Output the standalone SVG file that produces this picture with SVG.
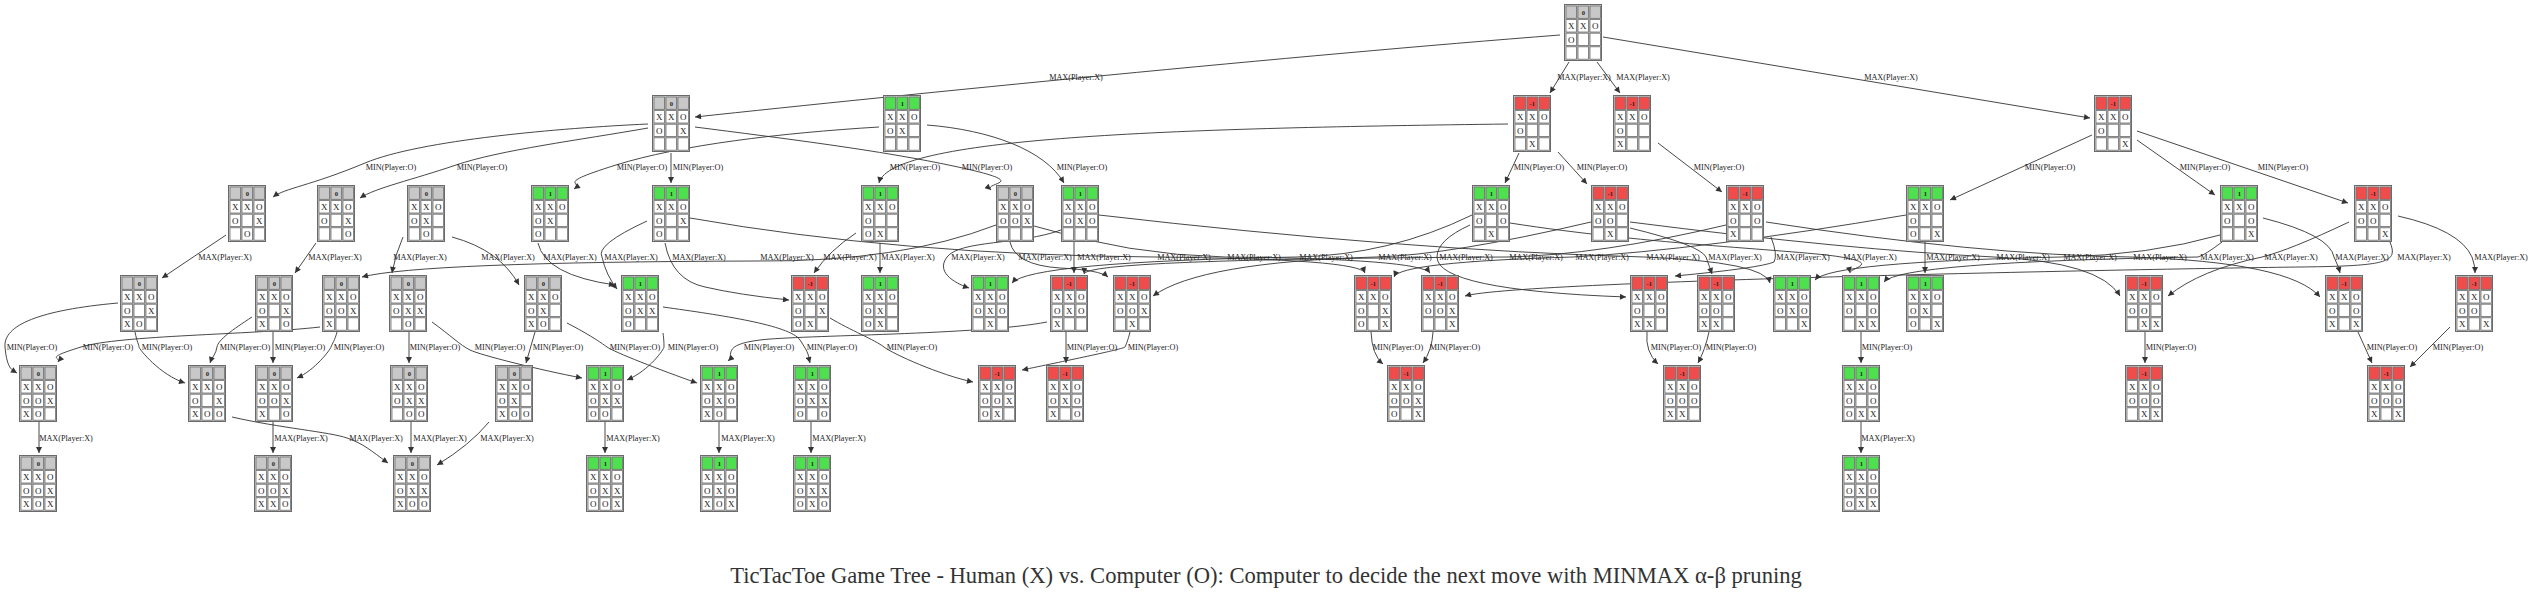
<svg xmlns="http://www.w3.org/2000/svg" xmlns:xlink="http://www.w3.org/1999/xlink" width="2531" height="593" viewBox="0 0 2531 593">
<style>
.fr{fill:#b8b8b8;stroke:#6a6a6a;stroke-width:1}
.fi{fill:none;stroke:#e0e0e0;stroke-width:0.6}
.c{fill:#fff;stroke:#707070;stroke-width:0.8}
.tn{fill:#c8c8c8;stroke:#707070;stroke-width:0.8}
.tg{fill:#4ee04e;stroke:#707070;stroke-width:0.8}
.tr{fill:#f04c4c;stroke:#707070;stroke-width:0.8}
.v{font-family:"Liberation Serif",serif;font-size:6.5px;font-weight:bold;text-anchor:middle;fill:#222}
.b{font-family:"Liberation Serif",serif;font-size:9px;text-anchor:middle;fill:#222}
.el{font-family:"Liberation Serif",serif;font-size:8.2px;text-anchor:middle;fill:#222}
.e path{fill:none;stroke:#333;stroke-width:0.9;marker-end:url(#ah)}
.title{font-family:"Liberation Serif",serif;font-size:22.6px;text-anchor:middle;fill:#333}
</style>
<defs>
<marker id="ah" viewBox="0 0 10 10" refX="10" refY="5" markerWidth="8" markerHeight="6" markerUnits="userSpaceOnUse" orient="auto"><path d="M0,0 L10,5 L0,10 z" fill="#333"/></marker>
<g id="bd"><rect class="fr" x="0.5" y="0.5" width="37" height="56"/><rect class="fi" x="1.3" y="1.3" width="35.4" height="54.4"/>
<rect class="c" x="2" y="15.6" width="10.5" height="12.4"/><rect class="c" x="14" y="15.6" width="10.5" height="12.4"/><rect class="c" x="26" y="15.6" width="10.5" height="12.4"/>
<rect class="c" x="2" y="29.2" width="10.5" height="12.4"/><rect class="c" x="14" y="29.2" width="10.5" height="12.4"/><rect class="c" x="26" y="29.2" width="10.5" height="12.4"/>
<rect class="c" x="2" y="42.8" width="10.5" height="12.4"/><rect class="c" x="14" y="42.8" width="10.5" height="12.4"/><rect class="c" x="26" y="42.8" width="10.5" height="12.4"/></g>
<g id="tn"><rect class="tn" x="2" y="2" width="10.5" height="12.3"/><rect class="tn" x="14" y="2" width="10.5" height="12.3"/><rect class="tn" x="26" y="2" width="10.5" height="12.3"/></g>
<g id="tg"><rect class="tg" x="2" y="2" width="10.5" height="12.3"/><rect class="tg" x="14" y="2" width="10.5" height="12.3"/><rect class="tg" x="26" y="2" width="10.5" height="12.3"/></g>
<g id="tr"><rect class="tr" x="2" y="2" width="10.5" height="12.3"/><rect class="tr" x="14" y="2" width="10.5" height="12.3"/><rect class="tr" x="26" y="2" width="10.5" height="12.3"/></g>
</defs>
<rect width="2531" height="593" fill="#fff"/>

<g id="connectors" class="e">
<path d="M1560,35 C1300,55 900,95 695,117"/>
<path d="M1569,62 L1550,93"/>
<path d="M1597,62 L1620,93"/>
<path d="M1603,37 L2090,118"/>

<path d="M648,124 C560,128 420,140 365,163 S285,188 273,197"/>
<path d="M648,128 C580,140 500,150 456,165 S375,188 360,198"/>
<path d="M671,153 L671,183"/>
<path d="M695,127 C780,138 880,150 958,167 S982,182 991,190"/>
<path d="M879,127 C780,133 680,145 616,165 S585,181 574,189"/>
<path d="M927,125 C990,130 1045,150 1064,183"/>
<path d="M1508,124 C1200,128 890,135 879,183"/>
<path d="M1519,153 L1505,183"/>
<path d="M1558,152 L1587,184"/>
<path d="M1658,143 L1722,192"/>
<path d="M2092,135 L1950,200"/>
<path d="M2137,140 L2215,195"/>
<path d="M2137,131 L2348,203"/>

<path d="M226,235 L162,278"/>
<path d="M316,243 L295,273"/>
<path d="M403,237 Q395,255 392,273"/>
<path d="M452,237 Q500,250 519,285"/>
<path d="M538,243 Q545,275 615,285"/>
<path d="M647,221 Q595,245 602,257 Q606,275 617,289"/>
<path d="M665,243 Q672,280 705,287 Q740,295 789,300"/>
<path d="M856,233 Q830,250 814,273"/>
<path d="M880,243 L880,273"/>
<path d="M996,225 Q900,262 758,261 Q420,262 362,277"/>
<path d="M1061,230 C1020,245 960,240 947,257 S960,285 969,288"/>
<path d="M1010,242 Q1015,265 1060,268 Q1100,270 1108,277"/>
<path d="M1074,242 L1074,273"/>
<path d="M690,218 Q900,255 1155,257 Q1360,259 1365,273"/>
<path d="M1034,226 Q1130,255 1225,257 Q1420,259 1430,273"/>
<path d="M1472,215 Q1390,255 1297,257 Q1030,262 1012,283"/>
<path d="M1591,222 Q1450,255 1376,257 Q1200,262 1153,296"/>
<path d="M1470,225 Q1437,240 1437,257 Q1437,290 1626,297"/>
<path d="M1726,225 Q1600,255 1507,257 Q1085,259 1084,274"/>
<path d="M1906,215 Q1700,250 1573,257 Q1400,262 1394,277"/>
<path d="M1099,215 Q1400,250 1644,257 Q1765,262 1770,283"/>
<path d="M1630,228 Q1700,245 1706,257 Q1710,268 1712,274"/>
<path d="M1771,237 Q1778,255 1774,262 Q1760,268 1675,276"/>
<path d="M1510,223 C1650,245 1800,250 1841,257 S1849,268 1850,273"/>
<path d="M1925,242 L1925,273"/>
<path d="M1630,222 Q1850,250 1994,257 Q2100,262 2120,296"/>
<path d="M2220,235 Q2150,255 2061,257 Q1830,262 1815,280"/>
<path d="M1766,222 Q1980,255 2131,257 Q2290,262 2320,297"/>
<path d="M2222,242 Q2205,255 2198,257 Q1900,262 1884,282"/>
<path d="M2349,222 Q2290,250 2262,257 Q2200,270 2168,296"/>
<path d="M2263,218 Q2330,235 2334,257 Q2338,265 2340,273"/>
<path d="M2390,242 C2398,262 2390,266 2300,267 S1520,280 1465,296"/>
<path d="M2398,216 Q2460,230 2472,257 Q2475,265 2475,273"/>

<path d="M118,303 C40,310 3,325 5,347 S12,370 17,373"/>
<path d="M320,327 C250,335 120,335 81,347 S62,357 58,362"/>
<path d="M135,332 C137,342 139,345 139,347 S160,375 185,383"/>
<path d="M252,317 C232,330 218,340 217,347 S212,357 210,363"/>
<path d="M273,332 L273,363"/>
<path d="M337,332 C335,340 332,344 331,347 S315,370 297,378"/>
<path d="M409,332 L409,363"/>
<path d="M432,322 C450,335 460,345 470,350 S540,370 582,378"/>
<path d="M535,332 L526,363"/>
<path d="M567,323 C590,335 600,342 607,347 S660,370 697,383"/>
<path d="M663,333 C664,340 664,345 664,347 S650,370 627,380"/>
<path d="M1047,322 C980,335 800,335 760,340 S735,355 728,361"/>
<path d="M663,307 C720,315 790,325 800,340 S808,355 810,363"/>
<path d="M830,318 C850,330 875,340 884,347 S940,375 973,382"/>
<path d="M1130,332 C1128,340 1126,345 1125,347 S1060,362 1022,370"/>
<path d="M1066,332 L1066,363"/>
<path d="M1371,332 Q1372,355 1383,364"/>
<path d="M1433,332 Q1432,350 1423,363"/>
<path d="M1647,332 Q1645,352 1658,364"/>
<path d="M1709,332 Q1705,350 1698,363"/>
<path d="M1861,332 L1861,363"/>
<path d="M2145,332 L2145,363"/>
<path d="M2358,332 L2372,363"/>
<path d="M2450,327 L2410,367"/>

<path d="M39,422 L39,453"/>
<path d="M273,422 L273,453"/>
<path d="M232,417 C280,428 330,432 347,438 S370,450 388,463"/>
<path d="M411,422 L411,453"/>
<path d="M489,422 Q470,445 437,465"/>
<path d="M605,422 L605,453"/>
<path d="M719,422 L719,453"/>
<path d="M811,422 L811,453"/>
<path d="M1861,422 L1861,453"/>
</g>

<g id="edge-labels">
<text class="el" x="1076" y="80">MAX(Player:X)</text>
<text class="el" x="1584" y="80">MAX(Player:X)</text>
<text class="el" x="1643" y="80">MAX(Player:X)</text>
<text class="el" x="1891" y="80">MAX(Player:X)</text>
<text class="el" x="391" y="170">MIN(Player:O)</text>
<text class="el" x="482" y="170">MIN(Player:O)</text>
<text class="el" x="642" y="170">MIN(Player:O)</text>
<text class="el" x="698" y="170">MIN(Player:O)</text>
<text class="el" x="915" y="170">MIN(Player:O)</text>
<text class="el" x="987" y="170">MIN(Player:O)</text>
<text class="el" x="1082" y="170">MIN(Player:O)</text>
<text class="el" x="1539" y="170">MIN(Player:O)</text>
<text class="el" x="1602" y="170">MIN(Player:O)</text>
<text class="el" x="1719" y="170">MIN(Player:O)</text>
<text class="el" x="2050" y="170">MIN(Player:O)</text>
<text class="el" x="2205" y="170">MIN(Player:O)</text>
<text class="el" x="2283" y="170">MIN(Player:O)</text>
<text class="el" x="225" y="260">MAX(Player:X)</text>
<text class="el" x="335" y="260">MAX(Player:X)</text>
<text class="el" x="420" y="260">MAX(Player:X)</text>
<text class="el" x="508" y="260">MAX(Player:X)</text>
<text class="el" x="570" y="260">MAX(Player:X)</text>
<text class="el" x="631" y="260">MAX(Player:X)</text>
<text class="el" x="699" y="260">MAX(Player:X)</text>
<text class="el" x="787" y="260">MAX(Player:X)</text>
<text class="el" x="850" y="260">MAX(Player:X)</text>
<text class="el" x="908" y="260">MAX(Player:X)</text>
<text class="el" x="978" y="260">MAX(Player:X)</text>
<text class="el" x="1045" y="260">MAX(Player:X)</text>
<text class="el" x="1104" y="260">MAX(Player:X)</text>
<text class="el" x="1184" y="260">MAX(Player:X)</text>
<text class="el" x="1254" y="260">MAX(Player:X)</text>
<text class="el" x="1326" y="260">MAX(Player:X)</text>
<text class="el" x="1405" y="260">MAX(Player:X)</text>
<text class="el" x="1466" y="260">MAX(Player:X)</text>
<text class="el" x="1536" y="260">MAX(Player:X)</text>
<text class="el" x="1602" y="260">MAX(Player:X)</text>
<text class="el" x="1673" y="260">MAX(Player:X)</text>
<text class="el" x="1735" y="260">MAX(Player:X)</text>
<text class="el" x="1803" y="260">MAX(Player:X)</text>
<text class="el" x="1870" y="260">MAX(Player:X)</text>
<text class="el" x="1953" y="260">MAX(Player:X)</text>
<text class="el" x="2023" y="260">MAX(Player:X)</text>
<text class="el" x="2090" y="260">MAX(Player:X)</text>
<text class="el" x="2160" y="260">MAX(Player:X)</text>
<text class="el" x="2227" y="260">MAX(Player:X)</text>
<text class="el" x="2291" y="260">MAX(Player:X)</text>
<text class="el" x="2362" y="260">MAX(Player:X)</text>
<text class="el" x="2424" y="260">MAX(Player:X)</text>
<text class="el" x="2501" y="260">MAX(Player:X)</text>
<text class="el" x="32" y="350">MIN(Player:O)</text>
<text class="el" x="108" y="350">MIN(Player:O)</text>
<text class="el" x="167" y="350">MIN(Player:O)</text>
<text class="el" x="245" y="350">MIN(Player:O)</text>
<text class="el" x="300" y="350">MIN(Player:O)</text>
<text class="el" x="359" y="350">MIN(Player:O)</text>
<text class="el" x="435" y="350">MIN(Player:O)</text>
<text class="el" x="500" y="350">MIN(Player:O)</text>
<text class="el" x="558" y="350">MIN(Player:O)</text>
<text class="el" x="635" y="350">MIN(Player:O)</text>
<text class="el" x="693" y="350">MIN(Player:O)</text>
<text class="el" x="769" y="350">MIN(Player:O)</text>
<text class="el" x="832" y="350">MIN(Player:O)</text>
<text class="el" x="912" y="350">MIN(Player:O)</text>
<text class="el" x="1092" y="350">MIN(Player:O)</text>
<text class="el" x="1153" y="350">MIN(Player:O)</text>
<text class="el" x="1398" y="350">MIN(Player:O)</text>
<text class="el" x="1455" y="350">MIN(Player:O)</text>
<text class="el" x="1676" y="350">MIN(Player:O)</text>
<text class="el" x="1731" y="350">MIN(Player:O)</text>
<text class="el" x="1887" y="350">MIN(Player:O)</text>
<text class="el" x="2171" y="350">MIN(Player:O)</text>
<text class="el" x="2392" y="350">MIN(Player:O)</text>
<text class="el" x="2458" y="350">MIN(Player:O)</text>
<text class="el" x="66" y="441">MAX(Player:X)</text>
<text class="el" x="301" y="441">MAX(Player:X)</text>
<text class="el" x="376" y="441">MAX(Player:X)</text>
<text class="el" x="440" y="441">MAX(Player:X)</text>
<text class="el" x="507" y="441">MAX(Player:X)</text>
<text class="el" x="633" y="441">MAX(Player:X)</text>
<text class="el" x="748" y="441">MAX(Player:X)</text>
<text class="el" x="839" y="441">MAX(Player:X)</text>
<text class="el" x="1888" y="441">MAX(Player:X)</text>
</g>

<g id="n-root" transform="translate(1564 4)"><use href="#bd"/><use href="#tn"/><text class="v" x="19.3" y="10.8">0</text><text class="b" x="7.3 19.3 31.3" y="25">XXO</text><text class="b" x="7.3" y="38.6">O</text></g>
<g id="n-A" transform="translate(652 95)"><use href="#bd"/><use href="#tn"/><text class="v" x="19.3" y="10.8">0</text><text class="b" x="7.3 19.3 31.3" y="25">XXO</text><text class="b" x="7.3 31.3" y="38.6">OX</text></g>
<g id="n-B" transform="translate(883 95)"><use href="#bd"/><use href="#tg"/><text class="v" x="19.3" y="10.8">1</text><text class="b" x="7.3 19.3 31.3" y="25">XXO</text><text class="b" x="7.3 19.3" y="38.6">OX</text></g>
<g id="n-C" transform="translate(1513 95)"><use href="#bd"/><use href="#tr"/><text class="v" x="19.3" y="10.8">-1</text><text class="b" x="7.3 19.3 31.3" y="25">XXO</text><text class="b" x="7.3" y="38.6">O</text><text class="b" x="19.3" y="52.2">X</text></g>
<g id="n-D" transform="translate(1613 95)"><use href="#bd"/><use href="#tr"/><text class="v" x="19.3" y="10.8">-1</text><text class="b" x="7.3 19.3 31.3" y="25">XXO</text><text class="b" x="7.3" y="38.6">O</text><text class="b" x="7.3" y="52.2">X</text></g>
<g id="n-E" transform="translate(2094 95)"><use href="#bd"/><use href="#tr"/><text class="v" x="19.3" y="10.8">-1</text><text class="b" x="7.3 19.3 31.3" y="25">XXO</text><text class="b" x="7.3" y="38.6">O</text><text class="b" x="31.3" y="52.2">X</text></g>

<g id="n-F" transform="translate(228 185)"><use href="#bd"/><use href="#tn"/><text class="v" x="19.3" y="10.8">0</text><text class="b" x="7.3 19.3 31.3" y="25">XXO</text><text class="b" x="7.3 31.3" y="38.6">OX</text><text class="b" x="19.3" y="52.2">O</text></g>
<g id="n-G" transform="translate(317 185)"><use href="#bd"/><use href="#tn"/><text class="v" x="19.3" y="10.8">0</text><text class="b" x="7.3 19.3 31.3" y="25">XXO</text><text class="b" x="7.3 31.3" y="38.6">OX</text><text class="b" x="31.3" y="52.2">O</text></g>
<g id="n-H" transform="translate(407 185)"><use href="#bd"/><use href="#tn"/><text class="v" x="19.3" y="10.8">0</text><text class="b" x="7.3 19.3 31.3" y="25">XXO</text><text class="b" x="7.3 19.3" y="38.6">OX</text><text class="b" x="19.3" y="52.2">O</text></g>
<g id="n-I" transform="translate(531 185)"><use href="#bd"/><use href="#tg"/><text class="v" x="19.3" y="10.8">1</text><text class="b" x="7.3 19.3 31.3" y="25">XXO</text><text class="b" x="7.3 19.3" y="38.6">OX</text><text class="b" x="7.3" y="52.2">O</text></g>
<g id="n-J" transform="translate(652 185)"><use href="#bd"/><use href="#tg"/><text class="v" x="19.3" y="10.8">1</text><text class="b" x="7.3 19.3 31.3" y="25">XXO</text><text class="b" x="7.3 31.3" y="38.6">OX</text><text class="b" x="7.3" y="52.2">O</text></g>
<g id="n-K" transform="translate(861 185)"><use href="#bd"/><use href="#tg"/><text class="v" x="19.3" y="10.8">1</text><text class="b" x="7.3 19.3 31.3" y="25">XXO</text><text class="b" x="7.3" y="38.6">O</text><text class="b" x="7.3 19.3" y="52.2">OX</text></g>
<g id="n-L" transform="translate(996 185)"><use href="#bd"/><use href="#tn"/><text class="v" x="19.3" y="10.8">0</text><text class="b" x="7.3 19.3 31.3" y="25">XXO</text><text class="b" x="7.3 19.3 31.3" y="38.6">OOX</text></g>
<g id="n-M" transform="translate(1061 185)"><use href="#bd"/><use href="#tg"/><text class="v" x="19.3" y="10.8">1</text><text class="b" x="7.3 19.3 31.3" y="25">XXO</text><text class="b" x="7.3 19.3 31.3" y="38.6">OXO</text></g>
<g id="n-N" transform="translate(1472 185)"><use href="#bd"/><use href="#tg"/><text class="v" x="19.3" y="10.8">1</text><text class="b" x="7.3 19.3 31.3" y="25">XXO</text><text class="b" x="7.3 31.3" y="38.6">OO</text><text class="b" x="19.3" y="52.2">X</text></g>
<g id="n-O" transform="translate(1591 185)"><use href="#bd"/><use href="#tr"/><text class="v" x="19.3" y="10.8">-1</text><text class="b" x="7.3 19.3 31.3" y="25">XXO</text><text class="b" x="7.3 19.3" y="38.6">OO</text><text class="b" x="19.3" y="52.2">X</text></g>
<g id="n-P" transform="translate(1726 185)"><use href="#bd"/><use href="#tr"/><text class="v" x="19.3" y="10.8">-1</text><text class="b" x="7.3 19.3 31.3" y="25">XXO</text><text class="b" x="7.3 31.3" y="38.6">OO</text><text class="b" x="7.3" y="52.2">X</text></g>
<g id="n-Q" transform="translate(1906 185)"><use href="#bd"/><use href="#tg"/><text class="v" x="19.3" y="10.8">1</text><text class="b" x="7.3 19.3 31.3" y="25">XXO</text><text class="b" x="7.3" y="38.6">O</text><text class="b" x="7.3 31.3" y="52.2">OX</text></g>
<g id="n-R" transform="translate(2220 185)"><use href="#bd"/><use href="#tg"/><text class="v" x="19.3" y="10.8">1</text><text class="b" x="7.3 19.3 31.3" y="25">XXO</text><text class="b" x="7.3 31.3" y="38.6">OO</text><text class="b" x="31.3" y="52.2">X</text></g>
<g id="n-S" transform="translate(2354 185)"><use href="#bd"/><use href="#tr"/><text class="v" x="19.3" y="10.8">-1</text><text class="b" x="7.3 19.3 31.3" y="25">XXO</text><text class="b" x="7.3 19.3" y="38.6">OO</text><text class="b" x="31.3" y="52.2">X</text></g>

<g id="n-T1" transform="translate(120 275)"><use href="#bd"/><use href="#tn"/><text class="v" x="19.3" y="10.8">0</text><text class="b" x="7.3 19.3 31.3" y="25">XXO</text><text class="b" x="7.3 31.3" y="38.6">OX</text><text class="b" x="7.3 19.3" y="52.2">XO</text></g>
<g id="n-T2" transform="translate(255 275)"><use href="#bd"/><use href="#tn"/><text class="v" x="19.3" y="10.8">0</text><text class="b" x="7.3 19.3 31.3" y="25">XXO</text><text class="b" x="7.3 31.3" y="38.6">OX</text><text class="b" x="7.3 31.3" y="52.2">XO</text></g>
<g id="n-T3" transform="translate(322 275)"><use href="#bd"/><use href="#tn"/><text class="v" x="19.3" y="10.8">0</text><text class="b" x="7.3 19.3 31.3" y="25">XXO</text><text class="b" x="7.3 19.3 31.3" y="38.6">OOX</text><text class="b" x="7.3" y="52.2">X</text></g>
<g id="n-T4" transform="translate(389 275)"><use href="#bd"/><use href="#tn"/><text class="v" x="19.3" y="10.8">0</text><text class="b" x="7.3 19.3 31.3" y="25">XXO</text><text class="b" x="7.3 19.3 31.3" y="38.6">OXX</text><text class="b" x="19.3" y="52.2">O</text></g>
<g id="n-T5" transform="translate(524 275)"><use href="#bd"/><use href="#tn"/><text class="v" x="19.3" y="10.8">0</text><text class="b" x="7.3 19.3 31.3" y="25">XXO</text><text class="b" x="7.3 19.3" y="38.6">OX</text><text class="b" x="7.3 19.3" y="52.2">XO</text></g>
<g id="n-T6" transform="translate(621 275)"><use href="#bd"/><use href="#tg"/><text class="v" x="19.3" y="10.8">1</text><text class="b" x="7.3 19.3 31.3" y="25">XXO</text><text class="b" x="7.3 19.3 31.3" y="38.6">OXX</text><text class="b" x="7.3" y="52.2">O</text></g>
<g id="n-T7" transform="translate(791 275)"><use href="#bd"/><use href="#tr"/><text class="v" x="19.3" y="10.8">-1</text><text class="b" x="7.3 19.3 31.3" y="25">XXO</text><text class="b" x="7.3 31.3" y="38.6">OX</text><text class="b" x="7.3 19.3" y="52.2">OX</text></g>
<g id="n-T8" transform="translate(861 275)"><use href="#bd"/><use href="#tg"/><text class="v" x="19.3" y="10.8">1</text><text class="b" x="7.3 19.3 31.3" y="25">XXO</text><text class="b" x="7.3 19.3" y="38.6">OX</text><text class="b" x="7.3 19.3" y="52.2">OX</text></g>
<g id="n-T9" transform="translate(971 275)"><use href="#bd"/><use href="#tg"/><text class="v" x="19.3" y="10.8">1</text><text class="b" x="7.3 19.3 31.3" y="25">XXO</text><text class="b" x="7.3 19.3 31.3" y="38.6">OXO</text><text class="b" x="19.3" y="52.2">X</text></g>
<g id="n-T10" transform="translate(1050 275)"><use href="#bd"/><use href="#tr"/><text class="v" x="19.3" y="10.8">-1</text><text class="b" x="7.3 19.3 31.3" y="25">XXO</text><text class="b" x="7.3 19.3 31.3" y="38.6">OXO</text><text class="b" x="7.3" y="52.2">X</text></g>
<g id="n-T11" transform="translate(1113 275)"><use href="#bd"/><use href="#tr"/><text class="v" x="19.3" y="10.8">-1</text><text class="b" x="7.3 19.3 31.3" y="25">XXO</text><text class="b" x="7.3 19.3 31.3" y="38.6">OOX</text><text class="b" x="19.3" y="52.2">X</text></g>
<g id="n-T12" transform="translate(1354 275)"><use href="#bd"/><use href="#tr"/><text class="v" x="19.3" y="10.8">-1</text><text class="b" x="7.3 19.3 31.3" y="25">XXO</text><text class="b" x="7.3 31.3" y="38.6">OX</text><text class="b" x="7.3 31.3" y="52.2">OX</text></g>
<g id="n-T13" transform="translate(1421 275)"><use href="#bd"/><use href="#tr"/><text class="v" x="19.3" y="10.8">-1</text><text class="b" x="7.3 19.3 31.3" y="25">XXO</text><text class="b" x="7.3 19.3 31.3" y="38.6">OOX</text><text class="b" x="31.3" y="52.2">X</text></g>
<g id="n-T14" transform="translate(1630 275)"><use href="#bd"/><use href="#tr"/><text class="v" x="19.3" y="10.8">-1</text><text class="b" x="7.3 19.3 31.3" y="25">XXO</text><text class="b" x="7.3 31.3" y="38.6">OO</text><text class="b" x="7.3 19.3" y="52.2">XX</text></g>
<g id="n-T15" transform="translate(1697 275)"><use href="#bd"/><use href="#tr"/><text class="v" x="19.3" y="10.8">-1</text><text class="b" x="7.3 19.3 31.3" y="25">XXO</text><text class="b" x="7.3 19.3" y="38.6">OO</text><text class="b" x="7.3 19.3" y="52.2">XX</text></g>
<g id="n-T16" transform="translate(1773 275)"><use href="#bd"/><use href="#tg"/><text class="v" x="19.3" y="10.8">1</text><text class="b" x="7.3 19.3 31.3" y="25">XXO</text><text class="b" x="7.3 19.3 31.3" y="38.6">OXO</text><text class="b" x="31.3" y="52.2">X</text></g>
<g id="n-T17" transform="translate(1842 275)"><use href="#bd"/><use href="#tg"/><text class="v" x="19.3" y="10.8">1</text><text class="b" x="7.3 19.3 31.3" y="25">XXO</text><text class="b" x="7.3 31.3" y="38.6">OO</text><text class="b" x="19.3 31.3" y="52.2">XX</text></g>
<g id="n-T18" transform="translate(1906 275)"><use href="#bd"/><use href="#tg"/><text class="v" x="19.3" y="10.8">1</text><text class="b" x="7.3 19.3 31.3" y="25">XXO</text><text class="b" x="7.3 19.3" y="38.6">OX</text><text class="b" x="7.3 31.3" y="52.2">OX</text></g>
<g id="n-T19" transform="translate(2125 275)"><use href="#bd"/><use href="#tr"/><text class="v" x="19.3" y="10.8">-1</text><text class="b" x="7.3 19.3 31.3" y="25">XXO</text><text class="b" x="7.3 19.3" y="38.6">OO</text><text class="b" x="19.3 31.3" y="52.2">XX</text></g>
<g id="n-T20" transform="translate(2325 275)"><use href="#bd"/><use href="#tr"/><text class="v" x="19.3" y="10.8">-1</text><text class="b" x="7.3 19.3 31.3" y="25">XXO</text><text class="b" x="7.3 31.3" y="38.6">OO</text><text class="b" x="7.3 31.3" y="52.2">XX</text></g>
<g id="n-T21" transform="translate(2455 275)"><use href="#bd"/><use href="#tr"/><text class="v" x="19.3" y="10.8">-1</text><text class="b" x="7.3 19.3 31.3" y="25">XXO</text><text class="b" x="7.3 19.3" y="38.6">OO</text><text class="b" x="7.3 31.3" y="52.2">XX</text></g>

<g id="n-U1" transform="translate(19 365)"><use href="#bd"/><use href="#tn"/><text class="v" x="19.3" y="10.8">0</text><text class="b" x="7.3 19.3 31.3" y="25">XXO</text><text class="b" x="7.3 19.3 31.3" y="38.6">OOX</text><text class="b" x="7.3 19.3" y="52.2">XO</text></g>
<g id="n-U2" transform="translate(188 365)"><use href="#bd"/><use href="#tn"/><text class="v" x="19.3" y="10.8">0</text><text class="b" x="7.3 19.3 31.3" y="25">XXO</text><text class="b" x="7.3 31.3" y="38.6">OX</text><text class="b" x="7.3 19.3 31.3" y="52.2">XOO</text></g>
<g id="n-U3" transform="translate(255 365)"><use href="#bd"/><use href="#tn"/><text class="v" x="19.3" y="10.8">0</text><text class="b" x="7.3 19.3 31.3" y="25">XXO</text><text class="b" x="7.3 19.3 31.3" y="38.6">OOX</text><text class="b" x="7.3 31.3" y="52.2">XO</text></g>
<g id="n-U4" transform="translate(390 365)"><use href="#bd"/><use href="#tn"/><text class="v" x="19.3" y="10.8">0</text><text class="b" x="7.3 19.3 31.3" y="25">XXO</text><text class="b" x="7.3 19.3 31.3" y="38.6">OXX</text><text class="b" x="19.3 31.3" y="52.2">OO</text></g>
<g id="n-U5" transform="translate(495 365)"><use href="#bd"/><use href="#tn"/><text class="v" x="19.3" y="10.8">0</text><text class="b" x="7.3 19.3 31.3" y="25">XXO</text><text class="b" x="7.3 19.3" y="38.6">OX</text><text class="b" x="7.3 19.3 31.3" y="52.2">XOO</text></g>
<g id="n-U6" transform="translate(586 365)"><use href="#bd"/><use href="#tg"/><text class="v" x="19.3" y="10.8">1</text><text class="b" x="7.3 19.3 31.3" y="25">XXO</text><text class="b" x="7.3 19.3 31.3" y="38.6">OXX</text><text class="b" x="7.3 19.3" y="52.2">OO</text></g>
<g id="n-U7" transform="translate(700 365)"><use href="#bd"/><use href="#tg"/><text class="v" x="19.3" y="10.8">1</text><text class="b" x="7.3 19.3 31.3" y="25">XXO</text><text class="b" x="7.3 19.3 31.3" y="38.6">OXO</text><text class="b" x="7.3 19.3" y="52.2">XO</text></g>
<g id="n-U8" transform="translate(793 365)"><use href="#bd"/><use href="#tg"/><text class="v" x="19.3" y="10.8">1</text><text class="b" x="7.3 19.3 31.3" y="25">XXO</text><text class="b" x="7.3 19.3 31.3" y="38.6">OXX</text><text class="b" x="7.3 31.3" y="52.2">OO</text></g>
<g id="n-U9" transform="translate(978 365)"><use href="#bd"/><use href="#tr"/><text class="v" x="19.3" y="10.8">-1</text><text class="b" x="7.3 19.3 31.3" y="25">XXO</text><text class="b" x="7.3 19.3 31.3" y="38.6">OOX</text><text class="b" x="7.3 19.3" y="52.2">OX</text></g>
<g id="n-U10" transform="translate(1046 365)"><use href="#bd"/><use href="#tr"/><text class="v" x="19.3" y="10.8">-1</text><text class="b" x="7.3 19.3 31.3" y="25">XXO</text><text class="b" x="7.3 19.3 31.3" y="38.6">OXO</text><text class="b" x="7.3 31.3" y="52.2">XO</text></g>
<g id="n-U11" transform="translate(1387 365)"><use href="#bd"/><use href="#tr"/><text class="v" x="19.3" y="10.8">-1</text><text class="b" x="7.3 19.3 31.3" y="25">XXO</text><text class="b" x="7.3 19.3 31.3" y="38.6">OOX</text><text class="b" x="7.3 31.3" y="52.2">OX</text></g>
<g id="n-U12" transform="translate(1663 365)"><use href="#bd"/><use href="#tr"/><text class="v" x="19.3" y="10.8">-1</text><text class="b" x="7.3 19.3 31.3" y="25">XXO</text><text class="b" x="7.3 19.3 31.3" y="38.6">OOO</text><text class="b" x="7.3 19.3" y="52.2">XX</text></g>
<g id="n-U13" transform="translate(1842 365)"><use href="#bd"/><use href="#tg"/><text class="v" x="19.3" y="10.8">1</text><text class="b" x="7.3 19.3 31.3" y="25">XXO</text><text class="b" x="7.3 31.3" y="38.6">OO</text><text class="b" x="7.3 19.3 31.3" y="52.2">OXX</text></g>
<g id="n-U14" transform="translate(2125 365)"><use href="#bd"/><use href="#tr"/><text class="v" x="19.3" y="10.8">-1</text><text class="b" x="7.3 19.3 31.3" y="25">XXO</text><text class="b" x="7.3 19.3 31.3" y="38.6">OOO</text><text class="b" x="19.3 31.3" y="52.2">XX</text></g>
<g id="n-U15" transform="translate(2367 365)"><use href="#bd"/><use href="#tr"/><text class="v" x="19.3" y="10.8">-1</text><text class="b" x="7.3 19.3 31.3" y="25">XXO</text><text class="b" x="7.3 19.3 31.3" y="38.6">OOO</text><text class="b" x="7.3 31.3" y="52.2">XX</text></g>

<g id="n-V1" transform="translate(19 455)"><use href="#bd"/><use href="#tn"/><text class="v" x="19.3" y="10.8">0</text><text class="b" x="7.3 19.3 31.3" y="25">XXO</text><text class="b" x="7.3 19.3 31.3" y="38.6">OOX</text><text class="b" x="7.3 19.3 31.3" y="52.2">XOX</text></g>
<g id="n-V2" transform="translate(254 455)"><use href="#bd"/><use href="#tn"/><text class="v" x="19.3" y="10.8">0</text><text class="b" x="7.3 19.3 31.3" y="25">XXO</text><text class="b" x="7.3 19.3 31.3" y="38.6">OOX</text><text class="b" x="7.3 19.3 31.3" y="52.2">XXO</text></g>
<g id="n-V3" transform="translate(393 455)"><use href="#bd"/><use href="#tn"/><text class="v" x="19.3" y="10.8">0</text><text class="b" x="7.3 19.3 31.3" y="25">XXO</text><text class="b" x="7.3 19.3 31.3" y="38.6">OXX</text><text class="b" x="7.3 19.3 31.3" y="52.2">XOO</text></g>
<g id="n-V4" transform="translate(586 455)"><use href="#bd"/><use href="#tg"/><text class="v" x="19.3" y="10.8">1</text><text class="b" x="7.3 19.3 31.3" y="25">XXO</text><text class="b" x="7.3 19.3 31.3" y="38.6">OXX</text><text class="b" x="7.3 19.3 31.3" y="52.2">OOX</text></g>
<g id="n-V5" transform="translate(700 455)"><use href="#bd"/><use href="#tg"/><text class="v" x="19.3" y="10.8">1</text><text class="b" x="7.3 19.3 31.3" y="25">XXO</text><text class="b" x="7.3 19.3 31.3" y="38.6">OXO</text><text class="b" x="7.3 19.3 31.3" y="52.2">XOX</text></g>
<g id="n-V6" transform="translate(793 455)"><use href="#bd"/><use href="#tg"/><text class="v" x="19.3" y="10.8">1</text><text class="b" x="7.3 19.3 31.3" y="25">XXO</text><text class="b" x="7.3 19.3 31.3" y="38.6">OXX</text><text class="b" x="7.3 19.3 31.3" y="52.2">OXO</text></g>
<g id="n-V7" transform="translate(1842 455)"><use href="#bd"/><use href="#tg"/><text class="v" x="19.3" y="10.8">1</text><text class="b" x="7.3 19.3 31.3" y="25">XXO</text><text class="b" x="7.3 19.3 31.3" y="38.6">OXO</text><text class="b" x="7.3 19.3 31.3" y="52.2">OXX</text></g>

<text class="title" x="1266" y="583">TicTacToe Game Tree - Human (X) vs. Computer (O): Computer to decide the next move with MINMAX α-β pruning</text>
</svg>
